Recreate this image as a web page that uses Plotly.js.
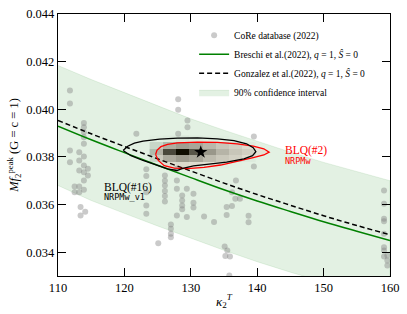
<!DOCTYPE html>
<html>
<head>
<meta charset="utf-8">
<script src="https://cdn.plot.ly/plotly-3.0.1.min.js"></script>
<style>html,body{margin:0;padding:0;background:#fff;}#chart{width:407px;height:314px;}</style>
</head>
<body>
<div id="chart"></div>
<script>
// ---- data ----
const fitKappa = [110, 115, 120, 125, 130, 135, 140, 145, 150, 155, 160];
const breschiMf = [0.03929, 0.03872, 0.03818, 0.03765, 0.03713, 0.03662, 0.03615, 0.03571, 0.03528, 0.03488, 0.03449];
const gonzalezMf = [0.03953, 0.03897, 0.03844, 0.03792, 0.03741, 0.03690, 0.03642, 0.03597, 0.03553, 0.03512, 0.03473];
const bandUpper = [0.04184, 0.04125, 0.04070, 0.04015, 0.03960, 0.03912, 0.03865, 0.03820, 0.03777, 0.03738, 0.03700];
const bandLower = [0.03680, 0.03617, 0.03563, 0.03510, 0.03458, 0.03408, 0.03360, 0.03316, 0.03275, 0.03235, 0.03197];

const coreKappa = [111.8,111.8,111.8,111.8,112.5,112.5,
  113.9,113.9,113.9,113.9,113.9,113.2,113.9,113.2,113.9,113.2,114.5,113.9,114.5,113.9,113.2,113.9,113.2,113.4,113.4,114.1,
  121.8,123.3,123.3,123.3,123.3,123.3,
  126.1,126.1,126.1,126.1,126.1,126.1,
  127.9,127.9,127.9,127.9,127.0,127.0,127.0,127.0,125.1,
  128.1,128.1,128.1,129.5,129.5,
  128.7,128.7,128.7,128.7,129.4,129.4,130.4,130.4,130.4,132.0,133.5,
  139.5,139.5,136.8,136.2,136.7,137.4,135.4,136.2,135.4,138.7,138.7,
  135.1,135.5,135.2,135.9,135.8,
  159.1,159.1,159.1,159.1,159.1,159.1,159.1,159.1,159.6,159.6,159.6];
const coreMf = [0.04079,0.04024,0.03827,0.03778,0.03676,0.03652,
  0.03942,0.03925,0.03904,0.03883,0.03855,0.03820,0.03802,0.03785,0.03764,0.03743,0.03750,0.03736,0.03722,0.03701,0.03676,0.03662,0.03652,0.03590,0.03554,0.03570,
  0.03897,0.03748,0.03720,0.03652,0.03596,0.03561,
  0.03722,0.03700,0.03680,0.03657,0.03636,0.03613,
  0.03750,0.03701,0.03666,0.03554,0.03516,0.03498,0.03477,0.03463,0.03438,
  0.04042,0.03998,0.03897,0.03953,0.03925,
  0.03638,0.03617,0.03596,0.03580,0.03666,0.03548,0.03645,0.03608,0.03588,0.03550,0.03527,
  0.03886,0.03760,0.03701,0.03652,0.03624,0.03624,0.03590,0.03594,0.03556,0.03553,0.03526,
  0.03424,0.03407,0.03384,0.03382,0.03302,
  0.03659,0.03603,0.03540,0.03530,0.03477,0.03421,0.03407,0.03382,0.03386,0.03365,0.03344];

// posterior histogram (BLQ #2, NRPMw)
const histKappa = [124.8, 126.8, 128.8, 130.8, 132.8, 134.8, 136.8, 138.8];
const histMf = [0.03764, 0.03792, 0.03820, 0.03848, 0.03876];
const histZ = [
  [0.02, 0.03, 0.04, 0.03, 0.02, 0.02, 0.01, null],
  [0.12, 0.32, 0.40, 0.34, 0.22, 0.13, 0.07, 0.03],
  [0.28, 0.78, 1.00, 0.72, 0.42, 0.26, 0.14, 0.07],
  [0.12, 0.30, 0.38, 0.34, 0.24, 0.14, 0.07, 0.03],
  [0.02, 0.03, 0.04, 0.03, 0.02, 0.02, 0.01, null]
];
const starKappa = [131.5];
const starMf = [0.0382];

// 90% contours
const redKappa = [124.7, 124.9, 125.5, 126.5, 128.0, 131.0, 134.0, 137.0, 139.4, 141.0, 141.8, 141.0, 139.4, 137.0, 134.5, 132.0, 129.5, 127.5, 126.0, 125.1, 124.7];
const redMf = [0.03810, 0.03828, 0.03843, 0.03853, 0.03859, 0.03862, 0.03861, 0.03855, 0.03845, 0.03834, 0.03820, 0.03808, 0.03797, 0.03782, 0.03766, 0.03756, 0.03751, 0.03753, 0.03763, 0.03785, 0.03810];
const blackKappa = [119.8, 120.5, 121.5, 122.8, 125.3, 128.0, 131.0, 134.0, 136.5, 138.4, 139.4, 139.8, 139.3, 138.0, 135.4, 132.5, 130.4, 128.8, 127.9, 126.5, 124.5, 122.8, 121.0, 120.1, 119.8];
const blackMf = [0.03827, 0.03845, 0.03858, 0.03866, 0.03875, 0.03879, 0.03880, 0.03876, 0.03868, 0.03855, 0.03839, 0.03822, 0.03805, 0.03792, 0.03778, 0.03768, 0.03762, 0.03752, 0.03743, 0.03750, 0.03768, 0.03785, 0.03805, 0.03819, 0.03827];

// text labels
const labelKappa = [143.9, 143.9, 116.7, 116.7];
const labelMf = [0.03827, 0.03781, 0.03671, 0.03630];
const labelText = ['BLQ(#2)', 'NRPMw', 'BLQ(#16)', 'NRPMw_v1'];

const serif = '"Liberation Serif", "DejaVu Serif", serif';
const mono = '"DejaVu Sans Mono", "Liberation Mono", monospace';

const traces = [
  {
    x: fitKappa.concat(fitKappa.slice().reverse()),
    y: bandUpper.concat(bandLower.slice().reverse()),
    type: 'scatter', mode: 'lines', fill: 'toself',
    fillcolor: 'rgba(0,128,0,0.11)',
    line: {color: 'rgba(0,128,0,0.12)', width: 0.8},
    name: '90% confidence interval', legendrank: 4, hoverinfo: 'skip'
  },
  {
    x: histKappa, y: histMf, z: histZ, type: 'heatmap', showscale: false,
    zmin: 0, zmax: 1,
    colorscale: [[0, 'rgba(255,255,255,0)'], [0.05, 'rgba(225,225,225,0.6)'], [1, 'rgb(0,0,0)']],
    showlegend: false, hoverinfo: 'skip'
  },
  {
    x: coreKappa, y: coreMf, type: 'scatter', mode: 'markers',
    marker: {color: 'rgba(128,128,128,0.42)', size: 6, line: {width: 0}},
    name: 'CoRe database (2022)', legendrank: 1
  },
  {
    x: fitKappa, y: breschiMf, type: 'scatter', mode: 'lines',
    line: {color: 'rgb(0,128,0)', width: 1.5, shape: 'spline'},
    name: 'Breschi et al.(2022), <i>q</i> = 1, <i>Ŝ</i> = 0', legendrank: 2
  },
  {
    x: fitKappa, y: gonzalezMf, type: 'scatter', mode: 'lines',
    line: {color: 'black', width: 1.5, dash: '5px,3px', shape: 'spline'},
    name: 'Gonzalez et al.(2022), <i>q</i> = 1, <i>Ŝ</i> = 0', legendrank: 3
  },
  {
    x: redKappa, y: redMf, type: 'scatter', mode: 'lines', fill: 'toself',
    fillcolor: 'rgba(255,0,0,0.06)',
    line: {color: 'red', width: 1.3},
    showlegend: false, hoverinfo: 'skip'
  },
  {
    x: blackKappa, y: blackMf, type: 'scatter', mode: 'lines',
    line: {color: 'black', width: 1.3},
    showlegend: false, hoverinfo: 'skip'
  },
  {
    x: starKappa, y: starMf, type: 'scatter', mode: 'markers',
    marker: {symbol: 'star', color: 'black', size: 10},
    showlegend: false, hoverinfo: 'skip'
  }
];

const labelColors = ['red', 'red', 'black', 'black'];
const annotations = labelText.map((t, i) => ({
  x: labelKappa[i], y: labelMf[i], xref: 'x', yref: 'y', text: t, showarrow: false,
  xanchor: 'left', yanchor: 'middle',
  font: {family: i % 2 === 0 ? serif : mono, size: i % 2 === 0 ? 11.5 : 8.5, color: labelColors[i]}
}));

const layout = {
  width: 407, height: 314,
  margin: {l: 58, r: 17, t: 14, b: 38},
  paper_bgcolor: 'white', plot_bgcolor: 'white',
  font: {family: serif, size: 12.5, color: 'black'},
  showlegend: true,
  legend: {
    x: 0.41, y: 0.974, xanchor: 'left', yanchor: 'top',
    bgcolor: 'rgba(0,0,0,0)', borderwidth: 0,
    font: {family: serif, size: 9.5, color: 'black'},
    itemwidth: 30, tracegroupgap: 0
  },
  xaxis: {
    range: [110, 160], dtick: 10, tick0: 110,
    ticks: 'inside', ticklen: 8, tickwidth: 1, tickcolor: 'black',
    showline: true, linecolor: 'black', linewidth: 1.2, mirror: 'ticks',
    showgrid: false, zeroline: false,
    title: {text: '<i>κ</i><sub>2</sub><sup><i>T</i></sup>', font: {family: serif, size: 13}, standoff: 2}
  },
  yaxis: {
    range: [0.033, 0.044], dtick: 0.002, tick0: 0.034, tickformat: '.3f',
    ticks: 'inside', ticklen: 8, tickwidth: 1, tickcolor: 'black',
    showline: true, linecolor: 'black', linewidth: 1.2, mirror: 'ticks',
    showgrid: false, zeroline: false,
    title: {text: '<i>Mf</i><sub>2</sub><sup>peak</sup> (G = c = 1)', font: {family: serif, size: 12.5}, standoff: 4}
  },
  annotations: annotations
};

Plotly.newPlot('chart', traces, layout, {staticPlot: true, displayModeBar: false});
</script>
</body>
</html>
